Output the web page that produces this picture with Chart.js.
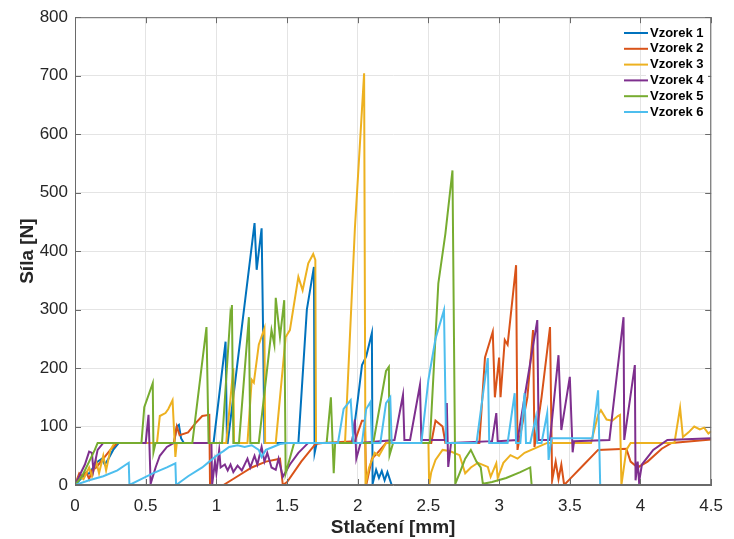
<!DOCTYPE html>
<html>
<head>
<meta charset="utf-8">
<script src="https://cdn.jsdelivr.net/npm/chart.js@4.4.1/dist/chart.umd.min.js"></script>
<style>
  html, body { margin: 0; padding: 0; background: #fff; }
</style>
</head>
<body>
<canvas id="graf" width="734" height="539"></canvas>
<script>
// stlačení [mm] a síla [N] pro jednotlivé vzorky
const labels = ["Vzorek 1", "Vzorek 2", "Vzorek 3", "Vzorek 4", "Vzorek 5", "Vzorek 6"];
const colors = ["#0072BD", "#D95319", "#EDB120", "#7E2F8E", "#77AC30", "#4DBEEE"];

const x1 = [0, 0.04, 0.07, 0.1, 0.13, 0.16, 0.19, 0.21, 0.23, 0.27, 0.31, 0.70, 0.72, 0.735, 0.75, 0.77, 0.98, 1.065, 1.075, 1.08, 1.27, 1.285, 1.32, 1.33, 1.34, 1.58, 1.64, 1.69, 1.695, 1.71, 1.96, 2.0, 2.03, 2.06, 2.1, 2.105, 2.13, 2.15, 2.17, 2.19, 2.21, 2.24, 2.64];
const y1 = [0, 10, 18, 20, 30, 40, 45, 35, 42, 60, 72, 72, 100, 103, 80, 72, 72, 245, 72, 72, 448, 368, 439, 270, 72, 72, 300, 373, 55, 72, 72, 145, 205, 220, 260, 2, 26, 12, 24, 8, 22, 0, 0];

const x2 = [0, 0.03, 0.05, 0.08, 0.1, 0.12, 0.15, 0.2, 0.25, 0.3, 0.70, 0.72, 0.74, 0.8, 0.85, 0.9, 0.95, 0.955, 1.05, 1.15, 1.25, 1.35, 1.45, 1.47, 1.5, 1.6, 1.7, 1.75, 1.98, 2.03, 2.05, 2.06, 2.1, 2.14, 2.2, 2.52, 2.55, 2.6, 2.62, 2.86, 2.9, 2.955, 2.97, 3.0, 3.01, 3.04, 3.06, 3.12, 3.13, 3.2, 3.24, 3.25, 3.3, 3.36, 3.375, 3.4, 3.42, 3.44, 3.46, 3.5, 3.6, 3.7, 3.9, 3.93, 3.98, 4.05, 4.15, 4.22, 4.5];
const y2 = [0, 20, 15, 22, 10, 25, 30, 45, 60, 72, 72, 100, 85, 90, 105, 118, 120, 0, 0, 15, 30, 40, 45, 0, 5, 40, 70, 72, 75, 110, 110, 0, 45, 55, 72, 72, 110, 100, 72, 72, 218, 262, 150, 218, 150, 248, 240, 376, 60, 150, 265, 65, 150, 270, 8, 40, 10, 35, 0, 10, 35, 60, 62, 40, 30, 40, 62, 72, 78];

const x3 = [0, 0.03, 0.06, 0.1, 0.12, 0.15, 0.17, 0.2, 0.22, 0.25, 0.28, 0.58, 0.6, 0.64, 0.66, 0.69, 0.71, 0.72, 1.07, 1.12, 1.125, 1.22, 1.25, 1.265, 1.3, 1.34, 1.345, 1.42, 1.49, 1.52, 1.58, 1.61, 1.65, 1.685, 1.70, 1.705, 1.91, 1.98, 2.0, 2.045, 2.055, 2.08, 2.12, 2.15, 2.2, 2.5, 2.505, 2.52, 2.55, 2.6, 2.65, 2.72, 2.76, 2.8, 2.85, 2.92, 2.94, 2.98, 2.99, 3.03, 3.08, 3.13, 3.18, 3.34, 3.65, 3.7, 3.72, 3.76, 3.8, 3.84, 3.855, 3.865, 3.9, 3.93, 4.24, 4.28, 4.3, 4.34, 4.38, 4.42, 4.45, 4.48, 4.5];
const y3 = [0, 15, 10, 30, 15, 40, 20, 50, 25, 60, 72, 72, 118, 123, 130, 145, 48, 72, 72, 200, 72, 72, 180, 175, 240, 268, 72, 72, 253, 265, 356, 333, 379, 395, 385, 72, 72, 440, 521, 704, 0, 30, 55, 50, 72, 72, 0, 22, 43, 60, 58, 51, 20, 30, 38, 31, 14, 37, 12, 38, 51, 45, 55, 72, 72, 120, 128, 112, 110, 118, 120, 0, 60, 72, 72, 132, 82, 90, 100, 95, 98, 88, 92];

const x4 = [0, 0.04, 0.07, 0.1, 0.12, 0.13, 0.16, 0.2, 0.5, 0.52, 0.535, 0.57, 0.6, 0.65, 0.7, 0.965, 0.97, 0.99, 1.0, 1.02, 1.03, 1.06, 1.08, 1.1, 1.12, 1.15, 1.18, 1.22, 1.24, 1.27, 1.29, 1.32, 1.34, 1.36, 1.39, 1.42, 1.44, 1.47, 1.52, 1.58, 1.65, 1.96, 1.98, 1.99, 2.02, 2.26, 2.32, 2.33, 2.37, 2.44, 2.45, 2.62, 2.63, 2.64, 2.66, 2.95, 2.98, 2.99, 3.13, 3.27, 3.28, 3.36, 3.42, 3.44, 3.5, 3.52, 3.53, 3.78, 3.88, 3.885, 3.96, 3.965, 3.98, 3.99, 4.01, 4.09, 4.19, 4.5];
const y4 = [0, 20, 35, 57, 55, 25, 60, 72, 72, 120, 2, 30, 50, 65, 72, 72, 0, 40, 20, 60, 30, 35, 25, 35, 22, 33, 25, 45, 30, 50, 35, 65, 40, 55, 30, 26, 45, 14, 35, 55, 72, 72, 112, 45, 72, 77, 154, 77, 77, 171, 77, 77, 140, 31, 72, 75, 123, 75, 77, 282, 77, 77, 222, 94, 185, 56, 75, 77, 287, 77, 205, 8, 40, 5, 35, 60, 77, 80];

const x5 = [0, 0.05, 0.1, 0.14, 0.16, 0.47, 0.49, 0.55, 0.555, 0.57, 0.83, 0.93, 0.945, 1.04, 1.1, 1.105, 1.11, 1.12, 1.16, 1.23, 1.24, 1.3, 1.39, 1.41, 1.42, 1.45, 1.48, 1.49, 1.55, 1.78, 1.81, 1.83, 1.84, 2.11, 2.2, 2.22, 2.225, 2.25, 2.51, 2.57, 2.62, 2.67, 2.69, 2.72, 2.76, 2.8, 2.84, 2.87, 2.885, 2.95, 3.05, 3.15, 3.22, 3.23, 3.7];
const y5 = [0, 15, 40, 60, 72, 72, 133, 174, 56, 72, 72, 270, 72, 72, 295, 290, 308, 72, 72, 287, 72, 72, 265, 240, 320, 253, 316, 20, 72, 72, 150, 20, 72, 72, 195, 202, 51, 72, 72, 345, 430, 538, 2, 20, 45, 60, 40, 30, 2, 5, 12, 22, 30, 0, 0];

const x6 = [0, 0.1, 0.2, 0.3, 0.38, 0.385, 0.45, 0.55, 0.65, 0.71, 0.715, 0.8, 0.9, 0.95, 1.0, 1.05, 1.09, 1.15, 1.2, 1.25, 1.3, 1.32, 1.35, 1.4, 1.45, 1.5, 1.86, 1.9, 1.95, 1.97, 2.03, 2.06, 2.09, 2.1, 2.16, 2.2, 2.23, 2.24, 2.45, 2.5, 2.55, 2.61, 2.625, 2.84, 2.92, 2.93, 3.06, 3.11, 3.12, 3.15, 3.18, 3.19, 3.22, 3.26, 3.27, 3.3, 3.34, 3.35, 3.37, 3.66, 3.7, 3.715, 4.5];
const y6 = [0, 8, 15, 25, 38, 0, 8, 20, 30, 37, 0, 15, 30, 40, 50, 58, 65, 68, 65, 68, 60, 48, 60, 65, 70, 72, 72, 130, 145, 72, 72, 130, 142, 72, 72, 140, 150, 72, 72, 180, 250, 299, 72, 72, 217, 72, 72, 157, 72, 72, 157, 72, 72, 116, 72, 72, 123, 43, 80, 80, 162, 0, 0];

const xTicks = [0, 0.5, 1, 1.5, 2, 2.5, 3, 3.5, 4, 4.5];
const yTicks = [0, 100, 200, 300, 400, 500, 600, 700, 800];

const series = [[x1, y1], [x2, y2], [x3, y3], [x4, y4], [x5, y5], [x6, y6]];

const FONT = '"Liberation Sans", Arial, Helvetica, sans-serif';
Chart.defaults.font.family = FONT;
Chart.defaults.color = "#262626";

// ramecek kolem grafu + kratke ticky dovnitr (jako v Matlabu)
const frame = {
    id: "frame",
    afterDatasetsDraw(chart) {
        const { ctx, chartArea: a, scales } = chart;
        ctx.save();
        ctx.strokeStyle = "#6a6a6a";
        ctx.lineWidth = 1;
        ctx.strokeRect(a.left + 0.5, a.top + 0.5, a.right - a.left - 1, a.bottom - a.top - 1);
        ctx.beginPath();
        xTicks.forEach(v => {
            const px = Math.round(scales.x.getPixelForValue(v)) + 0.5;
            ctx.moveTo(px, a.bottom); ctx.lineTo(px, a.bottom - 6);
            ctx.moveTo(px, a.top); ctx.lineTo(px, a.top + 6);
        });
        yTicks.forEach(v => {
            const py = Math.round(scales.y.getPixelForValue(v)) + 0.5;
            ctx.moveTo(a.left, py); ctx.lineTo(a.left + 6, py);
            ctx.moveTo(a.right, py); ctx.lineTo(a.right - 6, py);
        });
        ctx.stroke();
        ctx.restore();
    }
};

// legenda vpravo nahore uvnitr grafu
const legendBox = {
    id: "legendBox",
    afterDraw(chart) {
        const ctx = chart.ctx;
        ctx.save();
        ctx.fillStyle = "#fff";
        ctx.fillRect(646, 22, 62, 98);
        ctx.font = "bold 13px " + FONT;
        ctx.textBaseline = "middle";
        ctx.textAlign = "left";
        labels.forEach((name, i) => {
            const y = 33 + i * 15.8;
            ctx.strokeStyle = colors[i];
            ctx.lineWidth = 2;
            ctx.beginPath();
            ctx.moveTo(624, y);
            ctx.lineTo(648, y);
            ctx.stroke();
            ctx.fillStyle = "#000";
            ctx.fillText(name, 650, y);
        });
        ctx.restore();
    }
};

const datasets = series.map(([xs, ys], i) => ({
    label: labels[i],
    data: xs.map((x, j) => ({ x: x, y: ys[j] })),
    borderColor: colors[i],
    backgroundColor: colors[i],
    borderWidth: 2,
    pointRadius: 0,
    tension: 0,
    fill: false,
    order: labels.length - i
}));

new Chart(document.getElementById("graf"), {
    type: "line",
    data: { datasets: datasets },
    options: {
        responsive: false,
        animation: false,
        layout: { padding: { top: 17, right: 20, left: 0, bottom: 0 } },
        plugins: {
            legend: { display: false },
            tooltip: { enabled: false }
        },
        scales: {
            x: {
                type: "linear",
                min: 0,
                max: 4.5,
                afterFit: s => { s.height = 54; },
                afterBuildTicks: s => { s.ticks = xTicks.map(v => ({ value: v })); },
                ticks: {
                    font: { size: 17 },
                    padding: 11,
                    color: "#262626",
                    callback: v => String(v)
                },
                grid: { color: "#e4e4e4", drawTicks: false },
                border: { color: "#6a6a6a" },
                title: {
                    display: true,
                    text: "Stlačení [mm]",
                    font: { size: 19, weight: "bold" },
                    color: "#262626",
                    padding: { top: 0, bottom: 0 }
                }
            },
            y: {
                min: 0,
                max: 800,
                afterFit: s => { s.width = 75; },
                afterBuildTicks: s => { s.ticks = yTicks.map(v => ({ value: v })); },
                ticks: { font: { size: 17 }, padding: 7, color: "#262626" },
                grid: { color: "#e4e4e4", drawTicks: false },
                border: { color: "#6a6a6a" },
                title: {
                    display: true,
                    text: "Síla [N]",
                    font: { size: 19, weight: "bold" },
                    color: "#262626",
                    padding: { top: 16, bottom: 0 }
                }
            }
        }
    },
    plugins: [frame, legendBox]
});
</script>
</body>
</html>
